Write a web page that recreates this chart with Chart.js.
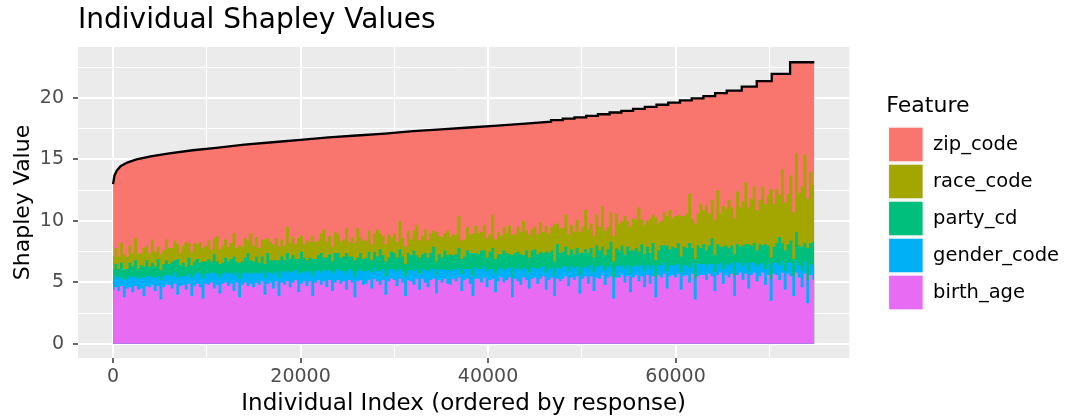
<!DOCTYPE html>
<html>
<head>
<meta charset="utf-8">
<title>Individual Shapley Values</title>
<script src="https://cdn.jsdelivr.net/npm/chart.js@4.4.1/dist/chart.umd.min.js"></script>
<style>
  body { margin: 0; background: #ffffff; }
  #wrap { width: 1072px; height: 418px; }
</style>
</head>
<body>
<div id="wrap"><canvas id="shapley-chart" width="1072" height="418"></canvas></div>
<script>
// individuals, sampled along the response order
const sampleIndex = [
  0, 300, 600, 900, 1200, 1500, 1800, 2100, 2400, 2700,
  3000, 3300, 3600, 3900, 4200, 4500, 4800, 5100, 5400, 5700,
  6000, 6300, 6600, 6900, 7200, 7500, 7800, 8100, 8400, 8700,
  9000, 9300, 9600, 9900, 10200, 10500, 10800, 11100, 11400, 11700,
  12000, 12300, 12600, 12900, 13200, 13500, 13800, 14100, 14400, 14700,
  15000, 15300, 15600, 15900, 16200, 16500, 16800, 17100, 17400, 17700,
  18000, 18300, 18600, 18900, 19200, 19500, 19800, 20100, 20400, 20700,
  21000, 21300, 21600, 21900, 22200, 22500, 22800, 23100, 23400, 23700,
  24000, 24300, 24600, 24900, 25200, 25500, 25800, 26100, 26400, 26700,
  27000, 27300, 27600, 27900, 28200, 28500, 28800, 29100, 29400, 29700,
  30000, 30300, 30600, 30900, 31200, 31500, 31800, 32100, 32400, 32700,
  33000, 33300, 33600, 33900, 34200, 34500, 34800, 35100, 35400, 35700,
  36000, 36300, 36600, 36900, 37200, 37500, 37800, 38100, 38400, 38700,
  39000, 39300, 39600, 39900, 40200, 40500, 40800, 41100, 41400, 41700,
  42000, 42300, 42600, 42900, 43200, 43500, 43800, 44100, 44400, 44700,
  45000, 45300, 45600, 45900, 46200, 46500, 46800, 47100, 47400, 47700,
  48000, 48300, 48600, 48900, 49200, 49500, 49800, 50100, 50400, 50700,
  51000, 51300, 51600, 51900, 52200, 52500, 52800, 53100, 53400, 53700,
  54000, 54300, 54600, 54900, 55200, 55500, 55800, 56100, 56400, 56700,
  57000, 57300, 57600, 57900, 58200, 58500, 58800, 59100, 59400, 59700,
  60000, 60300, 60600, 60900, 61200, 61500, 61800, 62100, 62400, 62700,
  63000, 63300, 63600, 63900, 64200, 64500, 64800, 65100, 65400, 65700,
  66000, 66300, 66600, 66900, 67200, 67500, 67800, 68100, 68400, 68700,
  69000, 69300, 69600, 69900, 70200, 70500, 70800, 71100, 71400, 71700,
  72000, 72300, 72600, 72900, 73200, 73500, 73800, 74100, 74400, 74800
];

const birthAge = [
  4.4, 4.6, 4.3, 4.7, 3.8, 4.5, 4.6, 4.2, 4.7, 4.4,
  4.5, 3.9, 4.7, 4.6, 4.8, 4.3, 4.7, 3.6, 4.6, 4.8,
  4.8, 4.5, 4.9, 4.0, 4.7, 4.8, 4.4, 4.9, 3.9, 4.7,
  4.9, 4.6, 3.7, 4.9, 4.8, 5.0, 4.5, 4.8, 4.1, 4.9,
  5.0, 4.7, 4.9, 4.3, 5.0, 3.8, 4.8, 5.0, 4.7, 4.9,
  4.6, 5.0, 4.8, 5.1, 4.0, 4.9, 5.0, 4.5, 5.1, 3.9,
  5.0, 4.8, 5.1, 4.6, 5.0, 5.2, 4.2, 4.9, 5.1, 4.7,
  5.1, 3.9, 5.0, 5.2, 4.8, 5.1, 4.6, 5.2, 4.3, 5.0,
  5.2, 4.9, 5.1, 4.4, 5.2, 5.0, 3.8, 5.1, 5.2, 4.8,
  4.9, 5.2, 4.5, 5.3, 5.1, 4.8, 5.2, 4.0, 5.1, 5.3,
  5.2, 4.7, 5.3, 5.0, 3.9, 5.2, 5.1, 4.8, 5.3, 4.4,
  5.3, 5.0, 4.6, 5.2, 5.3, 4.1, 5.2, 5.0, 5.3, 4.9,
  4.8, 5.3, 5.1, 5.4, 4.3, 5.2, 5.3, 4.9, 3.9, 5.3,
  5.3, 5.0, 5.4, 4.6, 5.2, 5.3, 4.2, 5.1, 5.4, 5.0,
  5.2, 5.4, 3.8, 5.3, 5.1, 4.8, 5.4, 5.2, 4.5, 5.3,
  5.4, 4.9, 5.3, 5.5, 4.4, 5.2, 5.4, 3.9, 5.3, 5.1,
  5.3, 5.5, 4.7, 5.4, 5.2, 5.5, 4.1, 5.3, 5.5, 4.9,
  5.5, 4.3, 5.4, 5.3, 5.6, 4.8, 5.4, 5.5, 3.7, 5.4,
  5.4, 5.6, 5.0, 5.5, 4.2, 5.4, 5.6, 5.1, 5.5, 4.6,
  5.6, 4.9, 5.5, 3.8, 5.6, 5.4, 5.7, 4.5, 5.5, 5.6,
  5.4, 5.7, 4.4, 5.5, 5.6, 5.0, 5.7, 3.6, 5.5, 5.6,
  5.6, 5.2, 5.7, 5.5, 4.3, 5.6, 5.8, 4.9, 5.6, 5.4,
  5.7, 3.9, 5.6, 5.8, 5.2, 5.7, 4.5, 5.6, 5.8, 5.1,
  5.5, 5.8, 4.8, 5.6, 3.5, 5.7, 5.6, 5.2, 5.8, 4.4,
  5.7, 5.5, 3.9, 5.8, 5.4, 4.6, 5.7, 3.3, 5.6, 5.2
];

const genderCode = [
  0.8, 0.9, 1.1, 0.7, 1.4, 0.8, 0.9, 1.2, 0.8, 0.9,
  0.9, 1.5, 0.8, 0.9, 0.7, 1.1, 0.8, 1.6, 0.9, 0.8,
  0.8, 1.0, 0.9, 1.4, 0.8, 0.7, 1.1, 0.8, 1.5, 0.9,
  0.9, 1.1, 1.6, 0.8, 0.9, 0.8, 1.2, 0.9, 1.3, 0.8,
  0.8, 1.0, 0.9, 1.3, 0.8, 1.5, 0.9, 0.8, 1.0, 0.9,
  1.1, 0.8, 0.9, 0.8, 1.4, 0.9, 0.8, 1.2, 0.8, 1.5,
  0.9, 1.0, 0.8, 1.2, 0.9, 0.8, 1.5, 0.9, 0.8, 1.1,
  0.8, 1.6, 0.9, 0.8, 1.0, 0.9, 1.3, 0.8, 1.4, 0.9,
  0.9, 1.0, 0.8, 1.3, 0.9, 0.9, 1.6, 0.8, 0.9, 1.1,
  1.0, 0.8, 1.3, 0.9, 0.8, 1.1, 0.9, 1.5, 0.9, 0.8,
  0.9, 1.2, 0.8, 0.9, 1.6, 0.8, 0.9, 1.1, 0.8, 1.3,
  0.8, 1.0, 1.3, 0.9, 0.8, 1.5, 0.9, 1.0, 0.8, 1.1,
  1.1, 0.8, 0.9, 0.8, 1.4, 0.9, 0.8, 1.2, 1.6, 0.9,
  0.8, 1.1, 0.9, 1.3, 0.9, 0.8, 1.5, 0.9, 0.8, 1.0,
  0.9, 0.8, 1.6, 0.9, 1.0, 1.2, 0.8, 0.9, 1.3, 0.9,
  0.8, 1.2, 0.9, 0.8, 1.4, 0.9, 0.8, 1.6, 0.9, 1.0,
  1.0, 0.8, 1.2, 0.9, 1.0, 0.8, 1.5, 0.9, 0.8, 1.2,
  0.9, 1.5, 0.9, 1.0, 0.8, 1.2, 0.9, 0.8, 1.7, 0.9,
  0.9, 0.8, 1.1, 0.9, 1.5, 0.9, 0.8, 1.2, 0.9, 1.3,
  0.8, 1.2, 0.9, 1.6, 0.8, 1.0, 0.9, 1.4, 0.9, 0.8,
  1.0, 0.8, 1.4, 0.9, 0.8, 1.2, 0.9, 1.7, 1.0, 0.9,
  0.9, 1.1, 0.8, 1.0, 1.5, 0.9, 0.8, 1.2, 0.9, 1.0,
  0.9, 1.6, 1.0, 0.8, 1.1, 0.9, 1.4, 1.0, 0.8, 1.2,
  1.0, 0.8, 1.3, 0.9, 1.8, 0.9, 1.0, 1.2, 0.9, 1.5,
  0.9, 1.1, 1.6, 0.9, 1.0, 1.4, 1.0, 1.9, 0.9, 1.1
];

const partyCd = [
  0.8, 1.0, 0.7, 1.2, 0.9, 0.8, 1.1, 0.9, 1.3, 0.8,
  1.0, 0.9, 1.3, 0.8, 1.1, 0.9, 1.4, 0.8, 1.0, 1.2,
  0.9, 1.2, 1.0, 1.5, 0.9, 1.1, 0.8, 1.3, 1.0, 1.1,
  1.1, 0.9, 1.4, 1.0, 1.2, 0.9, 1.6, 1.0, 1.1, 0.9,
  1.2, 1.0, 1.1, 1.5, 0.9, 1.3, 1.0, 1.2, 1.7, 1.0,
  1.0, 1.3, 0.9, 1.2, 1.1, 1.6, 1.0, 1.1, 0.9, 1.4,
  1.2, 1.0, 1.5, 1.1, 1.3, 0.9, 1.2, 1.7, 1.1, 1.0,
  1.1, 1.4, 1.0, 1.2, 1.6, 1.0, 1.1, 1.3, 1.0, 1.5,
  1.3, 1.1, 1.2, 1.7, 1.0, 1.2, 1.4, 1.1, 1.3, 1.0,
  1.1, 1.5, 1.0, 1.3, 1.2, 1.8, 1.1, 1.2, 1.0, 1.4,
  1.3, 1.1, 1.6, 1.2, 1.0, 1.4, 1.2, 1.7, 1.1, 1.3,
  1.2, 1.4, 1.1, 1.3, 1.8, 1.1, 1.2, 1.0, 1.5, 1.2,
  1.4, 1.1, 1.3, 1.6, 1.2, 1.0, 1.5, 1.3, 1.9, 1.2,
  1.2, 1.5, 1.3, 1.1, 1.4, 1.7, 1.2, 1.3, 1.1, 1.6,
  1.3, 1.1, 1.8, 1.2, 1.4, 1.3, 1.0, 1.5, 1.2, 1.4,
  1.5, 1.2, 1.3, 1.1, 1.7, 1.3, 1.4, 1.2, 1.9, 1.3,
  1.2, 1.6, 1.3, 1.4, 1.1, 1.5, 1.8, 1.2, 1.4, 1.3,
  1.4, 1.2, 1.7, 1.3, 1.5, 1.2, 1.4, 2.0, 1.3, 1.5,
  1.3, 1.6, 1.2, 1.5, 1.9, 1.3, 1.4, 1.2, 1.7, 1.4,
  1.5, 1.3, 1.8, 1.4, 1.2, 1.6, 1.4, 2.1, 1.3, 1.5,
  1.4, 1.7, 1.3, 1.5, 1.4, 2.0, 1.2, 1.6, 1.5, 1.3,
  1.6, 1.3, 1.5, 2.1, 1.4, 1.6, 1.3, 1.8, 1.5, 1.4,
  1.4, 1.8, 1.5, 1.3, 1.7, 1.5, 2.2, 1.4, 1.6, 1.3,
  1.6, 1.4, 2.0, 1.5, 1.7, 1.3, 1.6, 2.3, 1.5, 1.7,
  1.5, 1.8, 1.4, 2.4, 1.6, 1.9, 1.5, 2.6, 1.7, 2.0
];

const raceCode = [
  1.1, 1.3, 1.0, 1.6, 1.2, 1.0, 1.4, 1.1, 1.8, 1.2,
  1.0, 1.5, 1.2, 1.1, 1.9, 1.2, 1.0, 1.3, 1.1, 1.7,
  1.3, 1.1, 1.6, 1.2, 1.0, 1.4, 2.0, 1.2, 1.1, 1.5,
  1.2, 1.7, 1.1, 1.3, 1.5, 1.0, 1.3, 2.1, 1.2, 1.4,
  1.5, 1.2, 1.3, 1.9, 1.1, 1.4, 1.2, 1.6, 1.0, 2.2,
  1.3, 1.6, 1.2, 1.4, 2.0, 1.2, 1.5, 1.3, 1.8, 1.1,
  1.4, 1.2, 2.1, 1.3, 1.5, 1.2, 1.7, 1.3, 1.1, 1.6,
  1.3, 1.9, 1.4, 1.2, 1.6, 2.3, 1.3, 1.5, 1.2, 1.7,
  1.5, 1.3, 1.4, 2.0, 1.2, 1.6, 1.4, 2.4, 1.3, 1.5,
  1.4, 1.7, 1.3, 1.5, 2.2, 1.3, 1.6, 1.4, 1.9, 1.2,
  1.6, 1.3, 2.3, 1.5, 1.4, 1.8, 1.3, 1.6, 2.5, 1.4,
  1.5, 1.9, 1.4, 1.6, 1.3, 2.4, 1.5, 1.7, 1.4, 2.0,
  1.4, 1.7, 1.6, 2.6, 1.5, 1.4, 1.9, 1.5, 1.6, 2.2,
  1.7, 1.5, 2.1, 1.6, 1.4, 2.7, 1.6, 1.8, 1.5, 1.9,
  1.6, 2.3, 1.7, 1.5, 2.0, 1.8, 2.8, 1.6, 1.9, 1.7,
  1.8, 1.6, 2.4, 1.7, 2.1, 1.6, 1.9, 3.0, 1.7, 2.0,
  1.9, 2.6, 1.7, 2.0, 1.8, 2.3, 1.7, 2.1, 3.2, 1.9,
  2.0, 1.8, 2.5, 1.9, 3.3, 2.0, 1.8, 2.4, 2.1, 2.8,
  2.2, 2.0, 3.1, 2.1, 1.9, 2.6, 2.3, 3.6, 2.0, 2.4,
  2.1, 2.8, 2.3, 3.5, 2.2, 2.0, 2.7, 2.4, 3.2, 2.3,
  2.6, 2.3, 3.3, 2.5, 2.8, 4.0, 2.4, 2.9, 2.6, 3.6,
  2.8, 3.7, 2.6, 3.1, 2.9, 4.4, 2.7, 3.3, 3.0, 3.9,
  3.1, 2.9, 4.3, 3.2, 3.6, 5.0, 3.0, 3.8, 4.6, 3.3,
  3.6, 4.8, 3.3, 4.1, 5.6, 3.5, 4.4, 3.4, 6.0, 3.9,
  4.1, 5.3, 3.8, 6.4, 4.3, 4.9, 7.2, 4.0, 5.8, 4.6
];

// total response (smooth part, then the staircase at the top end)
const totalIndex = [0, 150, 400, 800, 1500, 2500, 4000, 6000, 8500, 11000, 14000,
  17000, 20000, 23000, 26000, 29000, 32000, 35000, 38000, 41000, 44000, 46720];
const totalValue = [13.0, 13.7, 14.1, 14.45, 14.75, 15.0, 15.25, 15.5, 15.75, 15.95, 16.2,
  16.4, 16.6, 16.8, 16.95, 17.1, 17.3, 17.45, 17.6, 17.75, 17.92, 18.08];
const stepIndex = [46720, 47970, 49220, 50470, 51720, 52970, 54220, 55470, 56720, 57970,
  59220, 60470, 61720, 62970, 64220, 65460, 67060, 68660, 70260, 72220];
const stepValue = [18.2, 18.32, 18.43, 18.55, 18.68, 18.82, 18.96, 19.12, 19.28, 19.45,
  19.62, 19.8, 19.97, 20.15, 20.39, 20.6, 20.93, 21.37, 21.96, 22.91];
const lastIndex = 74800;

const xTicks = [0, 10000, 20000, 30000, 40000, 50000, 60000, 70000];
const xLabels = [0, 20000, 40000, 60000];
const yTicks = [0, 2.5, 5, 7.5, 10, 12.5, 15, 17.5, 20, 22.5];
const yLabels = [0, 5, 10, 15, 20];

const colors = {
  zip_code: "#F8766D",
  race_code: "#A3A500",
  party_cd: "#00BF7D",
  gender_code: "#00B0F6",
  birth_age: "#E76BF3"
};

Chart.defaults.font.family = "'DejaVu Sans', sans-serif";

function toPoints(values) {
  return sampleIndex.map((x, i) => ({ x: x, y: values[i] }));
}

function totalPoints() {
  let pts = totalIndex.map((x, i) => ({ x: x, y: totalValue[i] }));
  let level = totalValue[totalValue.length - 1];
  stepIndex.forEach((x, i) => {
    pts.push({ x: x, y: level });
    level = stepValue[i];
    pts.push({ x: x, y: level });
  });
  pts.push({ x: lastIndex, y: level });
  return pts;
}

function part(label, values) {
  return {
    label: label,
    data: toPoints(values),
    stack: "parts",
    stepped: "middle",
    backgroundColor: colors[label],
    borderColor: "rgba(0,0,0,0)",
    borderWidth: 0,
    fill: "origin"
  };
}

const panelBackground = {
  id: "panelBackground",
  beforeDraw(chart) {
    const { ctx, chartArea: a } = chart;
    ctx.save();
    ctx.fillStyle = "#EBEBEB";
    ctx.fillRect(a.left, a.top, a.right - a.left, a.bottom - a.top);
    ctx.restore();
  }
};

const isMajor = (list, c) => c.tick !== undefined && list.includes(c.tick.value);

new Chart(document.getElementById("shapley-chart"), {
  type: "line",
  data: {
    datasets: [
      part("birth_age", birthAge),
      part("gender_code", genderCode),
      part("party_cd", partyCd),
      part("race_code", raceCode),
      {
        label: "zip_code",
        data: totalPoints(),
        stack: "total",
        backgroundColor: colors.zip_code,
        borderColor: "#000000",
        borderWidth: 2.3,
        borderJoinStyle: "miter",
        fill: "origin"
      }
    ]
  },
  options: {
    responsive: false,
    animation: false,
    events: [],
    layout: { padding: { left: 0, right: 3, top: 0, bottom: 0 } },
    elements: { point: { radius: 0 }, line: { tension: 0 } },
    scales: {
      x: {
        type: "linear",
        position: "bottom",
        min: -3740,
        max: 78540,
        afterBuildTicks: s => { s.ticks = xTicks.map(v => ({ value: v })); },
        afterFit: s => { s.height = 60; },
        border: { display: false },
        grid: {
          color: "#FFFFFF",
          lineWidth: c => isMajor(xLabels, c) ? 2 : 1,
          tickLength: 5,
          tickWidth: 1.5,
          tickColor: c => isMajor(xLabels, c) ? "#333333" : "rgba(0,0,0,0)"
        },
        ticks: {
          autoSkip: false,
          maxRotation: 0,
          padding: 3,
          color: "#4D4D4D",
          font: { size: 19 },
          callback: v => xLabels.includes(v) ? String(v) : ""
        },
        title: {
          display: true,
          text: "Individual Index (ordered by response)",
          color: "#000000",
          font: { size: 23 },
          padding: 0
        }
      },
      y: {
        type: "linear",
        position: "left",
        stacked: true,
        min: -1.15,
        max: 24.15,
        afterBuildTicks: s => { s.ticks = yTicks.map(v => ({ value: v })); },
        afterFit: s => { s.width = 78; },
        border: { display: false },
        grid: {
          color: "#FFFFFF",
          lineWidth: c => isMajor(yLabels, c) ? 2 : 1,
          tickLength: 5,
          tickWidth: 1.5,
          tickColor: c => isMajor(yLabels, c) ? "#333333" : "rgba(0,0,0,0)"
        },
        ticks: {
          padding: 9,
          color: "#4D4D4D",
          font: { size: 19 },
          callback: v => yLabels.includes(v) ? String(v) : ""
        },
        title: {
          display: true,
          text: "Shapley Value",
          color: "#000000",
          font: { size: 22 },
          padding: { top: 10, bottom: 0 }
        }
      },
      // empty axis that only keeps the legend away from the panel
      yGap: {
        type: "linear",
        axis: "y",
        position: "right",
        grid: { display: false },
        ticks: { display: false },
        border: { display: false },
        afterFit: s => { s.width = 37; }
      }
    },
    plugins: {
      tooltip: { enabled: false },
      title: {
        display: true,
        text: "Individual Shapley Values",
        align: "start",
        fullSize: false,
        color: "#000000",
        font: { size: 28, weight: "normal" },
        padding: { top: 4, bottom: 9.4 }
      },
      legend: {
        position: "right",
        align: "center",
        fullSize: false,
        maxWidth: 400,
        title: {
          display: true,
          text: "Feature",
          position: "start",
          color: "#000000",
          font: { size: 22 },
          padding: { top: 2, bottom: 3.6 }
        },
        labels: {
          boxWidth: 35,
          boxHeight: 35,
          padding: 2,
          color: "#000000",
          font: { size: 19.5 },
          generateLabels: chart => chart.data.datasets.map((ds, i) => ({
            text: ds.label,
            fillStyle: ds.backgroundColor,
            strokeStyle: "#F5F5F5",
            lineWidth: 1.5,
            hidden: false,
            datasetIndex: i
          })).reverse()
        }
      }
    }
  },
  plugins: [panelBackground]
});
</script>
</body>
</html>
